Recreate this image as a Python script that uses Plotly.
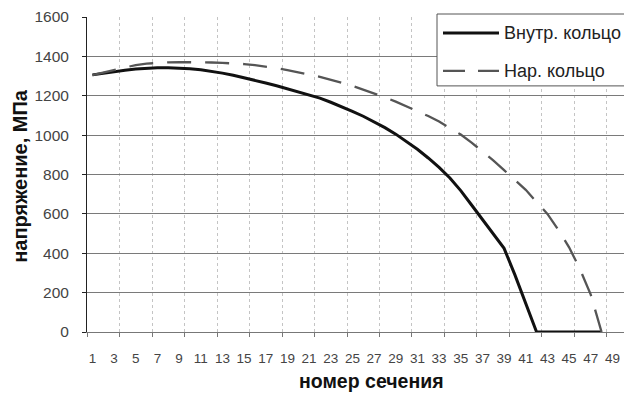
import plotly.graph_objects as go

# ---- data ----
sections = list(range(1, 49))
inner_ring = [1306, 1315, 1323, 1330, 1336, 1340, 1342, 1342, 1340, 1337,
              1332, 1325, 1315, 1304, 1292, 1279, 1265, 1251, 1236, 1221,
              1206, 1188, 1167, 1145, 1121, 1096, 1068, 1038, 1005, 968,
              928, 884, 836, 782, 718, 645, 572, 502, 425, 290,
              145, 0, 0, 0, 0, 0, 0, 0]
outer_ring = [1305, 1318, 1330, 1344, 1356, 1363, 1367, 1370, 1371, 1371,
              1370, 1369, 1367, 1365, 1361, 1355, 1348, 1340, 1330, 1320,
              1308, 1296, 1282, 1266, 1250, 1231, 1212, 1192, 1170, 1146,
              1123, 1097, 1069, 1038, 1003, 962, 918, 872, 822, 770,
              722, 660, 600, 520, 430, 320, 190, 0]
x_tick_values = list(range(1, 50, 2))
x_tick_labels = [str(v) for v in x_tick_values]
y_ticks = [0, 200, 400, 600, 800, 1000, 1200, 1400, 1600]
series_names = ["Внутр. кольцо", "Нар. кольцо"]

# ---- layout geometry (pixels) ----
W, H = 624, 396
L, R, T, B = 87, 624, 17, 332.5
PW, PH = R - L, B - T


def px(x):
    return (x - L) / PW


def py(y):
    return (B - y) / PH


FONT = "Liberation Sans, Arial, sans-serif"

fig = go.Figure()
fig.add_trace(go.Scatter(x=sections, y=inner_ring, mode="lines", name=series_names[0],
                         line=dict(color="#111111", width=3), showlegend=False))
fig.add_trace(go.Scatter(x=sections, y=outer_ring, mode="lines", name=series_names[1],
                         line=dict(color="#555555", width=2.3, dash="24px,14px"), showlegend=False))

fig.update_layout(
    width=W, height=H,
    margin=dict(l=L, r=W - R, t=T, b=H - B, pad=0),
    paper_bgcolor="white", plot_bgcolor="white",
    font=dict(family=FONT, color="#333333"),
    xaxis=dict(
        range=[0.5, 50.07], tickmode="array", tickvals=x_tick_values, ticktext=x_tick_labels,
        showgrid=False, zeroline=False, ticks="", ticklabelstandoff=14,
        tickfont=dict(size=13.5, color="#444444"),
        showline=True, linecolor="#777777", linewidth=1,
        minor=dict(tick0=0.5, dtick=3, showgrid=True, gridcolor="#c4c4c4", griddash="dot",
                   gridwidth=1, ticks="outside", ticklen=4, tickcolor="#777777"),
    ),
    yaxis=dict(
        range=[0, 1600], tickmode="array", tickvals=y_ticks,
        showgrid=True, gridcolor="#7a7a7a", gridwidth=1, zeroline=False,
        ticks="outside", ticklen=4, tickcolor="#222222", ticklabelstandoff=10,
        tickfont=dict(size=15.5, color="#444444"),
        showline=True, linecolor="#222222", linewidth=1,
    ),
    annotations=[
        dict(text="<b>напряжение, МПа</b>", xref="paper", yref="paper", x=px(20), y=py(176),
             textangle=-90, showarrow=False, font=dict(size=20, color="#111111", family=FONT),
             xanchor="center", yanchor="middle"),
        dict(text="<b>номер сечения</b>", xref="paper", yref="paper", x=px(371), y=py(382),
             showarrow=False, font=dict(size=19.5, color="#111111", family=FONT),
             xanchor="center", yanchor="middle"),
        dict(text=series_names[0], xref="paper", yref="paper", x=px(502), y=py(33),
             showarrow=False, font=dict(size=18, color="#222222", family=FONT),
             xanchor="left", yanchor="middle"),
        dict(text=series_names[1], xref="paper", yref="paper", x=px(502), y=py(71),
             showarrow=False, font=dict(size=18, color="#222222", family=FONT),
             xanchor="left", yanchor="middle"),
    ],
    shapes=[
        dict(type="rect", xref="paper", yref="paper", x0=px(437), x1=px(640), y0=py(86), y1=py(14),
             fillcolor="white", line=dict(color="#555555", width=1), layer="above"),
        dict(type="line", xref="paper", yref="paper", x0=px(443), x1=px(499), y0=py(33), y1=py(33),
             line=dict(color="#111111", width=3), layer="above"),
        dict(type="line", xref="paper", yref="paper", x0=px(443), x1=px(499), y0=py(71), y1=py(71),
             line=dict(color="#555555", width=2.3, dash="22px,13px"), layer="above"),
    ],
)

fig.write_html("out.html", config={"displayModeBar": False})
